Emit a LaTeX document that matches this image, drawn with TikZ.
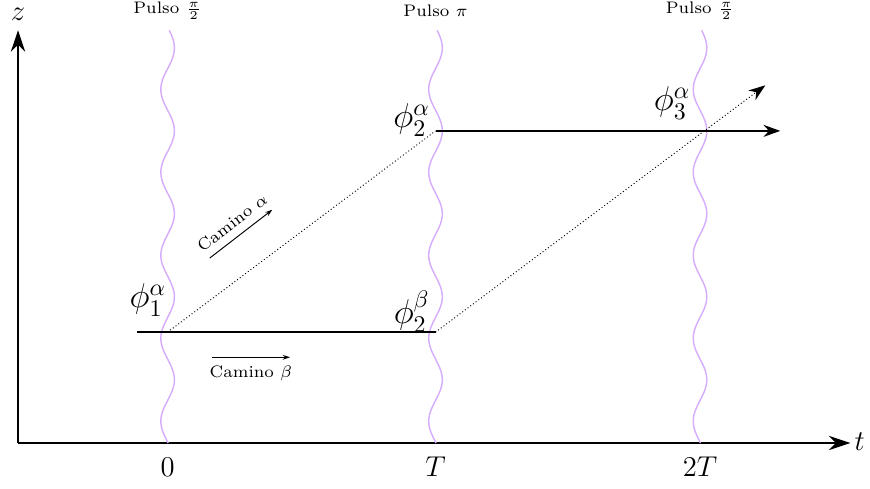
\documentclass[tikz,border=0pt]{standalone}
\usepackage{amsmath}
\usetikzlibrary{arrows.meta,positioning}

\definecolor{pulsecol}{RGB}{214,172,252}

\tikzset{
    axis/.style={semithick,-{Stealth[length=9pt,width=6pt]}},
    path/.style={thick},
    pulse/.style={pulsecol,line width=0.6pt},
    camino/.style={thin,-{Stealth[length=3pt,width=2pt]}}
}

\begin{document}
\begin{tikzpicture}
            \useasboundingbox (-0.265,-0.662) rectangle (12.53,6.515);
            \coordinate (O) at (0,0);
            \coordinate (zmax) at (0,6.07);
            \coordinate (tmax) at (12.24,0);
            \draw[axis] (O) -- (zmax);
            \draw[axis] (O) -- (tmax);
            \node (zlab) at (0,6.3) {\large $z$};
            \node (tlab) at (12.38,0.02) {\large $t$};
            \foreach \px/\name/\pul/\tick in {2.2/p0/{$\frac{\pi}{2}$}/$0$, 6.14/p1/{$\pi$}/$T$, 10.03/p2/{$\frac{\pi}{2}$}/$2T$}{
                \draw[pulse] plot[variable=\s,domain=0:6.07,samples=150,smooth]
                    ({\px+0.1*cos(360*(\s-4.59)/1.22)},\s);
                \node (\name) at (\px,6.36) {\scriptsize Pulso \pul};
                \node (\name tick) at (\px,-0.35) {\large \tick};
            }
            \coordinate (A) at (1.75,1.63);
            \coordinate (B) at (2.2,1.63);
            \coordinate (C) at (6.14,1.63);
            \coordinate (D) at (6.14,4.59);
            \coordinate (E) at (11.21,4.59);
            \coordinate (F) at (10.99,5.26);
            \draw[path] (A) -- (C);
            \draw[path,-{Stealth[length=7pt,width=5pt]}] (D) -- (E);
            \draw[densely dotted] (B) -- (D);
            \draw[densely dotted,-{Stealth[length=7pt,width=5pt]}] (C) -- (F);
            \node (phi1a) at (1.91,2.10) {\Large $\phi_1^\alpha$};
            \node (phi2a) at (5.79,4.75) {\Large $\phi_2^\alpha$};
            \node (phi2b) at (5.79,1.93) {\Large $\phi_2^\beta$};
            \node (phi3a) at (9.62,5.00) {\Large $\phi_3^\alpha$};
            \coordinate (ca1) at (2.82,2.72);
            \coordinate (ca2) at (3.74,3.43);
            \draw[camino] (ca1) -- (ca2) node[midway,above,sloped] (calab) {\scriptsize Camino $\alpha$};
            \coordinate (cb1) at (2.85,1.26);
            \coordinate (cb2) at (4.0,1.26);
            \draw[camino] (cb1) -- (cb2) node[midway,below] (cblab) {\scriptsize Camino $\beta$};
        \end{tikzpicture}
\end{document}
